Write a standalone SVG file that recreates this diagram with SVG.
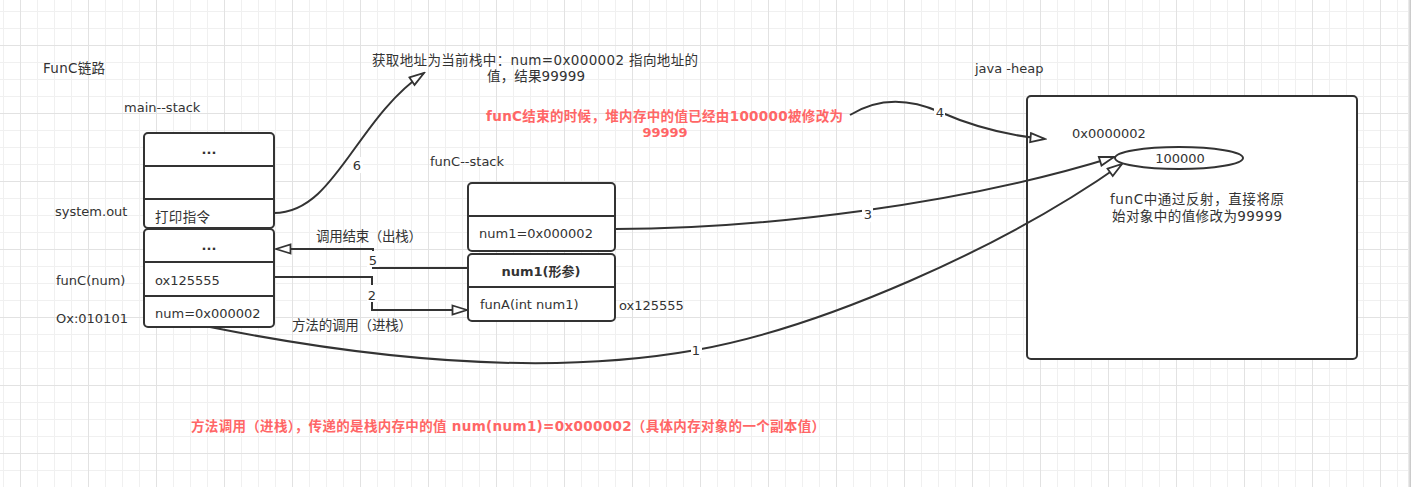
<svg xmlns="http://www.w3.org/2000/svg" width="1411" height="487" viewBox="0 0 1411 487">
  <defs>
    <pattern id="grid" patternUnits="userSpaceOnUse" x="20" y="45" width="68" height="68">
      <rect x="17" y="0" width="1" height="68" fill="#f0f0f0"/>
      <rect x="34" y="0" width="1" height="68" fill="#f0f0f0"/>
      <rect x="51" y="0" width="1" height="68" fill="#f0f0f0"/>
      <rect x="0" y="17" width="68" height="1" fill="#f0f0f0"/>
      <rect x="0" y="34" width="68" height="1" fill="#f0f0f0"/>
      <rect x="0" y="51" width="68" height="1" fill="#f0f0f0"/>
      <rect x="0" y="0" width="1" height="68" fill="#e2e2e2"/>
      <rect x="0" y="0" width="68" height="1" fill="#e2e2e2"/>
    </pattern>
    <linearGradient id="edge" x1="0" y1="0" x2="1" y2="0">
      <stop offset="0" stop-color="#f2f2f2"/>
      <stop offset="1" stop-color="#c4c4c4"/>
    </linearGradient>
    <marker id="arrow" markerUnits="userSpaceOnUse" viewBox="0 0 18 12" markerWidth="18" markerHeight="12" refX="16" refY="6" orient="auto">
      <path d="M1.5,1.5 L16,6 L1.5,10.5 Z" fill="#ffffff" stroke="#333333" stroke-width="1.8" stroke-linejoin="miter"/>
    </marker>
    <style>
      text { font-family: "DejaVu Sans", "Noto Sans CJK SC", sans-serif; font-size: 13px; fill: #333333; dominant-baseline: central; }
      .k { font-size: 13.5px; }
      .b { font-weight: bold; }
      .c { text-anchor: middle; }
      .red { fill: #ff6666; font-weight: bold; }
      .box { fill: #ffffff; stroke: #333333; stroke-width: 2; }
      .div { stroke: #333333; stroke-width: 2; fill: none; }
      .edge { fill: none; stroke: #333333; stroke-width: 2; marker-end: url(#arrow); }
      .lbg { fill: #ffffff; }
    </style>
  </defs>

  <rect x="0" y="0" width="1411" height="487" fill="#ffffff"/>
  <rect x="0" y="0" width="1411" height="487" fill="url(#grid)"/>
  <rect x="1408" y="0" width="3" height="487" fill="url(#edge)"/>

  <!-- free labels -->
  <g id="labels">
    <text class="k" x="43" y="68" textLength="62">FunC链路</text>
    <text x="124" y="107">main--stack</text>
    <text x="55" y="211">system.out</text>
    <text x="56" y="280">funC(num)</text>
    <text x="56" y="318">Ox:010101</text>
    <text x="430" y="161.5">funC--stack</text>
    <text x="619" y="305">ox125555</text>
    <text x="975" y="68">java -heap</text>
    <text class="k" x="372" y="60" textLength="326">获取地址为当前栈中：num=0x000002 指向地址的</text>
    <text class="k" x="487" y="76" textLength="98">值，结果99999</text>
    <text class="k red" x="486" y="116" textLength="357">funC结束的时候，堆内存中的值已经由100000被修改为</text>
    <text class="c red" x="665" y="132.5">99999</text>
    <text class="k red" x="191" y="426" textLength="634">方法调用（进栈），传递的是栈内存中的值 num(num1)=0x000002（具体内存对象的一个副本值）</text>
    <text class="k" x="316" y="236" textLength="106">调用结束（出栈）</text>
    <text class="k" x="292" y="325" textLength="120">方法的调用（进栈）</text>
  </g>

  <!-- main stack, upper frame -->
  <g id="main-stack-upper">
    <rect class="box" x="144" y="133" width="130" height="95" rx="4"/>
    <line class="div" x1="144" y1="166" x2="274" y2="166"/>
    <line class="div" x1="144" y1="199" x2="274" y2="199"/>
    <text class="c b" x="209" y="149.5">...</text>
    <text class="k" x="155" y="216.5" textLength="55">打印指令</text>
  </g>

  <!-- main stack, lower frame -->
  <g id="main-stack-lower">
    <rect class="box" x="144" y="229" width="130" height="98" rx="4"/>
    <line class="div" x1="144" y1="262" x2="274" y2="262"/>
    <line class="div" x1="144" y1="296" x2="274" y2="296"/>
    <text class="c b" x="209" y="245.5">...</text>
    <text x="155" y="280">ox125555</text>
    <text x="155" y="313.5">num=0x000002</text>
  </g>

  <!-- funC stack, upper frame -->
  <g id="func-stack-upper">
    <rect class="box" x="468" y="183" width="147" height="68" rx="4"/>
    <line class="div" x1="468" y1="216" x2="615" y2="216"/>
    <text x="479" y="233">num1=0x000002</text>
  </g>

  <!-- funC stack, lower frame -->
  <g id="func-stack-lower">
    <rect class="box" x="468" y="254" width="147" height="67" rx="4"/>
    <line class="div" x1="468" y1="287" x2="615" y2="287"/>
    <text class="c b" x="541" y="271.5">num1(形参)</text>
    <text x="480" y="304">funA(int num1)</text>
  </g>

  <!-- java heap -->
  <g id="heap">
    <rect class="box" x="1027" y="96" width="330" height="263" rx="4"/>
    <text x="1072" y="133">0x0000002</text>
    <text class="k" x="1110" y="199" textLength="174">funC中通过反射，直接将原</text>
    <text class="k" x="1112" y="216" textLength="170">始对象中的值修改为99999</text>
  </g>

  <g id="heap-object">
    <ellipse cx="1179" cy="158" rx="64" ry="11" fill="#ffffff" stroke="#333333" stroke-width="2"/>
    <text class="c" x="1180" y="158">100000</text>
  </g>

  <!-- connectors -->
  <g id="connectors">
    <path class="edge" d="M210,327 Q500,385 696,350 C820,328 1000,250 1122,164"/>
    <path class="edge" d="M274,277 L372,277 L372,310 L467,310"/>
    <path class="edge" d="M615,229 C760,229 960,205 1114,157"/>
    <path class="edge" d="M850,115 Q890,90 940,112 T1045,139"/>
    <path class="edge" d="M468,268 L373,268 L373,249 L276,249"/>
    <path class="edge" d="M274,213 C335,213 355,120 424,73"/>

    <rect class="lbg" x="691" y="342" width="11" height="16"/>
    <text class="c" x="696" y="350">1</text>
    <rect class="lbg" x="367" y="285" width="11" height="17"/>
    <text class="c" x="372" y="295">2</text>
    <rect class="lbg" x="862" y="206" width="11" height="16"/>
    <text class="c" x="868" y="214">3</text>
    <rect class="lbg" x="934" y="104" width="11" height="16"/>
    <text class="c" x="940" y="112">4</text>
    <rect class="lbg" x="367" y="251" width="12" height="16"/>
    <text class="c" x="373" y="260">5</text>
    <rect class="lbg" x="351" y="157" width="12" height="16"/>
    <text class="c" x="357" y="165">6</text>
  </g>
</svg>
